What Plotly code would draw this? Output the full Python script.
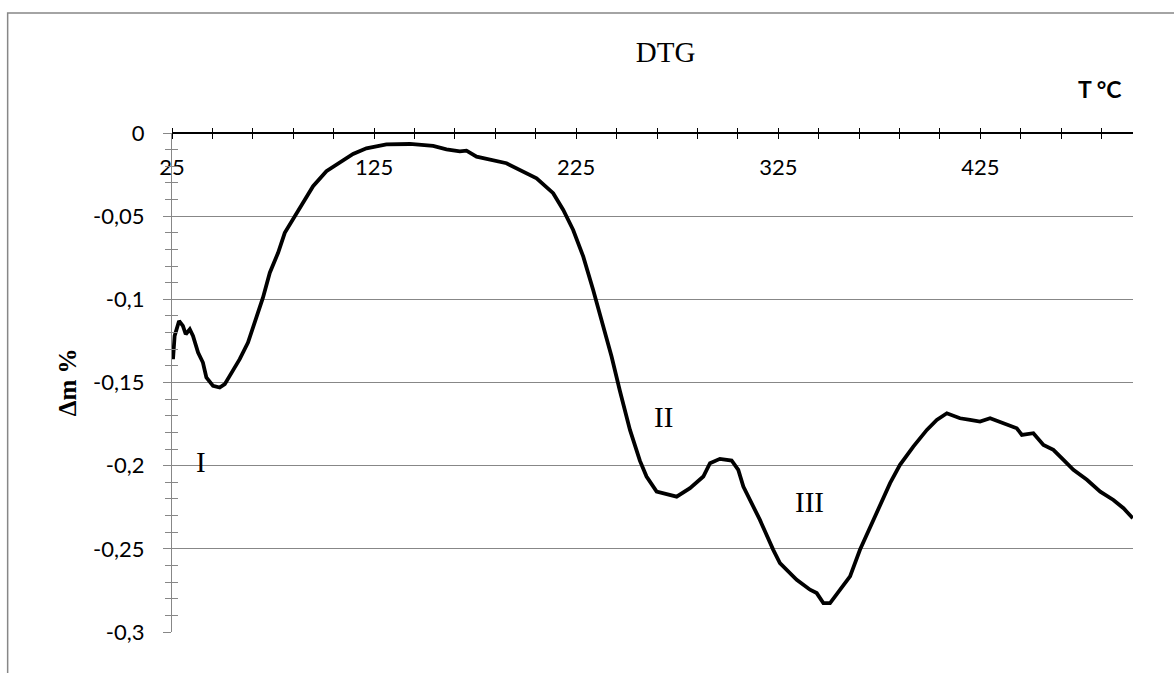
import plotly.graph_objects as go

# Temperature (°C)
temperature = [25.5, 26.3, 28.5, 30.4, 31.8, 33.8, 35.4, 37.9, 40.3, 42.0, 45.3, 48.6, 51.1, 53.6,
               58.5, 62.6, 66.8, 70.0, 73.4, 77.5, 80.8, 85.7, 89.9, 94.8, 101.4, 108.0, 114.6,
               121.2, 131.1, 142.7, 154.2, 160.8, 167.4, 170.7, 175.7, 190.5, 205.4, 213.6, 218.6,
               223.5, 228.5, 233.4, 238.4, 242.5, 246.6, 251.6, 256.5, 259.8, 264.8, 274.7, 281.3,
               287.9, 291.2, 296.1, 301.9, 305.2, 307.7, 315.9, 322.5, 325.8, 334.1, 340.7, 344.0,
               347.3, 350.6, 355.5, 360.5, 365.4, 372.0, 380.3, 385.2, 391.8, 398.5, 403.4, 408.4,
               414.9, 419.9, 424.8, 429.8, 436.4, 443.0, 445.5, 451.2, 456.2, 461.1, 466.1, 471.0,
               477.7, 484.3, 490.8, 495.8, 500.4]
# DTG signal (Δm %)
dtg = [-0.136, -0.122, -0.113, -0.116, -0.121, -0.118, -0.122, -0.132, -0.138, -0.147, -0.152,
       -0.153, -0.151, -0.146, -0.136, -0.126, -0.110, -0.099, -0.084, -0.072, -0.060, -0.050,
       -0.042, -0.032, -0.023, -0.0176, -0.0126, -0.0092, -0.0068, -0.0066, -0.0078, -0.0098,
       -0.011, -0.0106, -0.0142, -0.0182, -0.0272, -0.0362, -0.0463, -0.0583, -0.0743, -0.0944,
       -0.1164, -0.1344, -0.155, -0.1785, -0.197, -0.2065, -0.2156, -0.2186, -0.2135, -0.2065,
       -0.1985, -0.1959, -0.1969, -0.2025, -0.2126, -0.2326, -0.2506, -0.2586, -0.2686, -0.2746,
       -0.2766, -0.2826, -0.2826, -0.2746, -0.2666, -0.2506, -0.2326, -0.2105, -0.1995, -0.1885,
       -0.1785, -0.1725, -0.1685, -0.1715, -0.1725, -0.1735, -0.1715, -0.1745, -0.1775, -0.1815,
       -0.1805, -0.1875, -0.1905, -0.1965, -0.2025, -0.2085, -0.2156, -0.2206, -0.2256, -0.2316]

y_tickvals = [0, -0.05, -0.1, -0.15, -0.2, -0.25, -0.3]
y_ticktext = ["0", "-0,05", "-0,1", "-0,15", "-0,2", "-0,25", "-0,3"]

stage_labels = ["I", "II", "III"]
stage_x = [39.2, 268.2, 340.4]
stage_y = [-0.1977, -0.1707, -0.2221]

X_RANGE = [25, 500.5]
Y_RANGE = [-0.3, 0]
GRAY = "#878787"
SANS = "Lato"
SERIF = "Liberation Serif"

fig = go.Figure()
fig.add_trace(go.Scatter(x=temperature, y=dtg, mode="lines",
                         line=dict(color="black", width=3.8), showlegend=False,
                         hoverinfo="skip"))

fig.update_layout(
    width=1174, height=673,
    margin=dict(l=172, r=41, t=133, b=41),
    paper_bgcolor="white", plot_bgcolor="white",
    showlegend=False,
    title=dict(text="DTG", x=603 / 1174, y=1 - 52 / 673, xanchor="center", yanchor="middle",
               xref="paper", yref="container",
               font=dict(family=SERIF, size=29, color="black")),
    xaxis=dict(range=X_RANGE, anchor="free", position=1, side="bottom",
               showline=True, linecolor="black", linewidth=2,
               ticks="outside", ticklen=5, tickwidth=1.3, tickcolor="black",
               tick0=25, dtick=100,
               minor=dict(tick0=25, dtick=20, ticks="outside", ticklen=5, tickwidth=1.3,
                          tickcolor="black", showgrid=False),
               showgrid=False, zeroline=False, ticklabelstandoff=10,
               tickfont=dict(family=SANS, size=22, color="black")),
    xaxis2=dict(range=X_RANGE, overlaying="x", anchor="free", position=1, side="top",
                showline=False, ticks="outside", ticklen=5, tickwidth=1.3, tickcolor="black",
                tick0=25, dtick=100,
                minor=dict(tick0=25, dtick=20, ticks="outside", ticklen=5, tickwidth=1.3,
                           tickcolor="black", showgrid=False),
                showgrid=False, zeroline=False, showticklabels=False),
    yaxis=dict(range=Y_RANGE, anchor="x", side="left",
               showline=True, linecolor=GRAY, linewidth=1.3,
               tickmode="array", tickvals=y_tickvals, ticktext=y_ticktext,
               ticks="outside", ticklen=8, tickwidth=1.3, tickcolor=GRAY,
               minor=dict(tickmode="linear", tick0=0, dtick=0.01, ticks="outside", ticklen=6,
                          tickwidth=1.3, tickcolor=GRAY, showgrid=False),
               showgrid=True, gridcolor=GRAY, gridwidth=1.3, zeroline=False,
               ticklabelstandoff=14,
               tickfont=dict(family=SANS, size=22, color="black")),
    yaxis2=dict(range=Y_RANGE, overlaying="y", anchor="x", side="left",
                showline=False, tickmode="linear", tick0=0, dtick=0.05, ticks="",
                minor=dict(tickmode="linear", tick0=0, dtick=0.01, ticks="inside", ticklen=6,
                           tickwidth=1.3, tickcolor=GRAY, showgrid=False),
                showgrid=False, zeroline=False, showticklabels=False),
)

# invisible trace so the overlay axes render
fig.add_trace(go.Scatter(x=[None], y=[None], xaxis="x2", yaxis="y2", showlegend=False))

# stage labels
for lab, sx, sy in zip(stage_labels, stage_x, stage_y):
    fig.add_annotation(x=sx, y=sy, xref="x", yref="y", text=lab, showarrow=False,
                       xanchor="center", yanchor="middle",
                       font=dict(family=SERIF, size=29, color="black"))

# axis titles
fig.add_annotation(x=(68 - 172.3) / 960.7, y=0.5, xref="paper", yref="paper",
                   text="<b>Δm %</b>", textangle=-90, showarrow=False,
                   xanchor="center", yanchor="middle",
                   font=dict(family=SERIF, size=25, color="black"))
fig.add_annotation(x=(1100 - 172.3) / 960.7, y=(632 - 88.5) / 499, xref="paper", yref="paper",
                   text="<b>T °C</b>", showarrow=False, xanchor="center", yanchor="middle",
                   font=dict(family=SANS, size=23, color="black"))

# outer chart border
fig.add_shape(type="rect", xref="paper", yref="paper",
              x0=(8 - 172.3) / 960.7, x1=1.2, y0=-0.3, y1=(632 - 13) / 499,
              line=dict(color=GRAY, width=1.5), fillcolor="rgba(0,0,0,0)", layer="below")

fig.write_html("out.html", config={"displayModeBar": False},
               post_script="document.body.style.margin='0';")
